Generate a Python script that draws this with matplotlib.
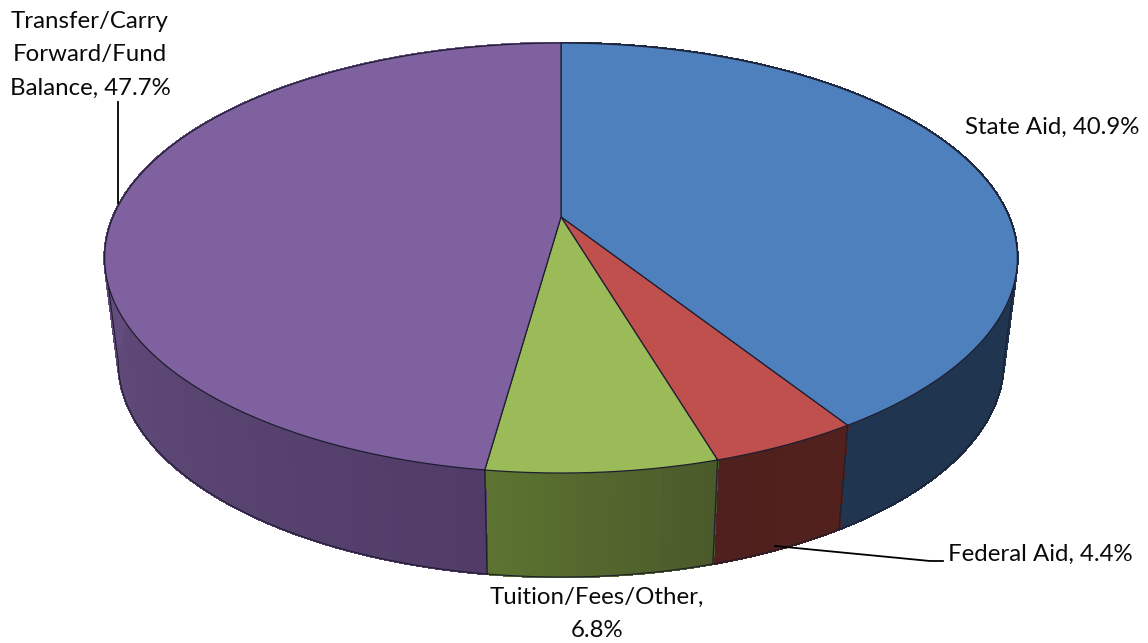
import numpy as np
import matplotlib
matplotlib.use("Agg")
import matplotlib.pyplot as plt
from matplotlib.collections import PolyCollection
from matplotlib.patches import Polygon

# --- data ---
categories = ["State Aid", "Federal Aid", "Tuition/Fees/Other", "Transfer/Carry Forward/Fund Balance"]
values = [40.9, 4.4, 6.8, 47.7]
label_texts = ["State Aid, 40.9%", "Federal Aid, 4.4%", "Tuition/Fees/Other,\n6.8%",
               "Transfer/Carry\nForward/Fund\nBalance, 47.7%"]

# --- style ---
top_colors = ["#4e80bd", "#c0504d", "#9bbb59", "#7e619e"]
side_start = ["#203550", "#52211e", "#4a5a2a", "#513c68"]
side_end = ["#203550", "#4f201d", "#5c7331", "#7a6197"]
edge = "#1e1e30"

# projection of the pie disc onto the image (pixel coordinates)
CX, CY = 561.0, 217.0
PERSP = 0.1907
YSCALE = -165.8
XSCALE = 448.0
DEPTH = 104.0
SHRINK = 0.97


def project(theta, r=1.0, bottom=False):
    x = r * np.sin(theta)
    y = r * np.cos(theta)
    den = 1 + PERSP * y
    px = XSCALE * x / den
    py = (CY + YSCALE * y) / den
    if bottom:
        return np.column_stack([CX + SHRINK * px, py + DEPTH])
    return np.column_stack([CX + px, py])


fig = plt.figure(figsize=(11.48, 6.43), dpi=100)
ax = fig.add_axes([0, 0, 1, 1])
ax.set_xlim(0, 1148)
ax.set_ylim(643, 0)
ax.axis("off")

shares = np.array(values) / np.sum(values)
bounds = np.concatenate([[0], np.cumsum(shares)]) * 2 * np.pi

# side wall
for i in range(len(values)):
    n = max(int(np.degrees(bounds[i + 1] - bounds[i])), 2)
    th = np.linspace(bounds[i], bounds[i + 1], n + 1)
    t = project(th)
    b = project(th, bottom=True)
    quads = [[t[k], t[k + 1], b[k + 1], b[k]] for k in range(len(th) - 1)]
    c0 = np.array(matplotlib.colors.to_rgb(side_start[i]))
    c1 = np.array(matplotlib.colors.to_rgb(side_end[i]))
    fr = np.linspace(0, 1, len(quads))
    cols = [c0 + (c1 - c0) * f for f in fr]
    ax.add_collection(PolyCollection(quads, facecolors=cols, edgecolors=cols, linewidths=1.2,
                                     antialiaseds=False, zorder=2))

# silhouette of the wall: bottom rim and tangent lines
tan = np.arccos(-PERSP)
th = np.linspace(tan, 2 * np.pi - tan, 400)
rim = project(th, bottom=True)
ax.plot(rim[:, 0], rim[:, 1], color=edge, lw=0.8, zorder=3)
for a in (tan, 2 * np.pi - tan):
    seg = np.vstack([project(np.array([a])), project(np.array([a]), bottom=True)])
    ax.plot(seg[:, 0], seg[:, 1], color=edge, lw=0.8, zorder=3)
# slice boundaries on the wall
for a in bounds[1:-1]:
    if tan < a < 2 * np.pi - tan:
        seg = np.vstack([project(np.array([a])), project(np.array([a]), bottom=True)])
        ax.plot(seg[:, 0], seg[:, 1], color=edge, lw=0.9, zorder=3)

# top face
for i in range(len(values)):
    th = np.linspace(bounds[i], bounds[i + 1], 300)
    pts = np.vstack([[CX, CY], project(th)])
    ax.add_patch(Polygon(pts, closed=True, facecolor=top_colors[i], edgecolor=edge,
                         linewidth=0.9, joinstyle="round", zorder=4))

# leader lines
ax.plot([118, 118], [102, 203], color="black", lw=1.3, zorder=5)
ax.plot([775, 930, 943], [546, 561, 561], color="black", lw=1.3, zorder=5)

# labels
font = dict(family="Lato", fontsize=17.3, color="#0a0a0a", ha="center", va="center",
            linespacing=1.71, zorder=6)
ax.text(1052, 127, label_texts[0], **font)
ax.text(1040, 554, label_texts[1], **font)
ax.text(597, 614, label_texts[2], **font)
ax.text(90, 55, label_texts[3], **font)

fig.savefig("out.png", dpi=100, facecolor="white")
